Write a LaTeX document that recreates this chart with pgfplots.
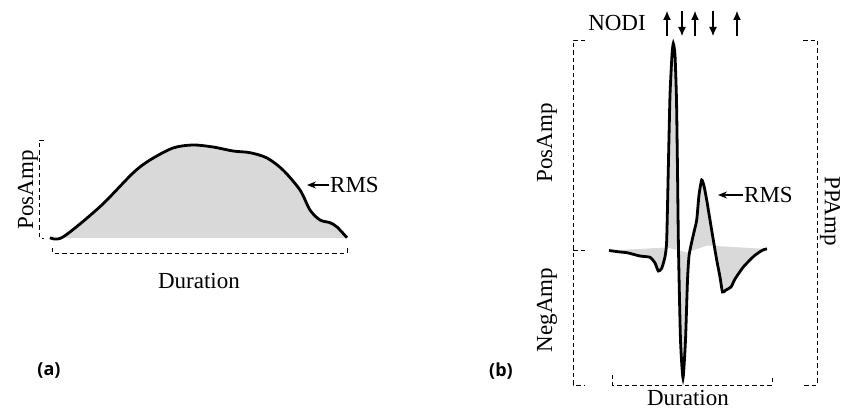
\documentclass[border=0pt]{standalone}
\usepackage{fontspec}
\setmainfont{Liberation Serif}
\newfontfamily\labfont{Open Sans}
\usepackage{pgfplots}
\pgfplotsset{compat=1.18}
\usepgfplotslibrary{fillbetween}
\usetikzlibrary{arrows.meta}
\begin{document}
\fontsize{23}{26}\selectfont
\begin{tikzpicture}
\begin{axis}[name=ax, scale only axis, width=844pt, height=409pt,
  xmin=0, xmax=844, ymin=0, ymax=409, y dir=reverse,
  axis lines=none, ticks=none, clip=false]
% ---------- panel (a) ----------
\addplot[draw=none, smooth, name path=A] coordinates {
 (50,237.7) (63,237) (100,206.7) (133,173) (150,160) (173,148) (193,145)
 (213,147) (233,151) (250,152.7) (267,158) (283,170) (300,190) (310,210)
 (320,220) (330,222.7) (337,227) (347,237.7)};
\addplot[draw=none, name path=Abase] coordinates {(50,238) (347,238)};
\addplot[black!15] fill between[of=A and Abase];
\addplot[black, line width=2.8pt, smooth] coordinates {
 (50,237.7) (63,237) (100,206.7) (133,173) (150,160) (173,148) (193,145)
 (213,147) (233,151) (250,152.7) (267,158) (283,170) (300,190) (310,210)
 (320,220) (330,222.7) (337,227) (347,237.7)};
% ---------- panel (b) ----------
\addplot[draw=none, smooth, tension=0.35, name path=W] coordinates {
 (609,250.5) (620,252) (627,252.7) (640,256) (650,257.3) (655,263) (658.3,271)
 (661.7,268.3) (665,256.7) (666.7,240) (668.5,160) (670,95) (672,55) (673.3,43.5)
 (675,55) (676.5,100) (677.5,170) (678.5,250) (680.5,340) (683,378) (685.5,340)
 (687.5,280) (689,256) (691.5,243) (694,232) (696.7,220) (699,195) (701.7,180)
 (704,186) (706.7,200) (710,220) (713.3,240) (716.7,260) (720,277) (722.5,292)
 (726,290) (731,287) (735,279) (743.3,267) (753.3,256.7) (760,251.7) (764,249.5) (767,249)};
\addplot[draw=none, name path=Wbase] coordinates {
 (609,250.5) (667,247.5) (687,252.5) (707,245.5) (767,249)};
\addplot[black!15] fill between[of=W and Wbase];
\addplot[black, line width=2.8pt, smooth, tension=0.35] coordinates {
 (609,250.5) (620,252) (627,252.7) (640,256) (650,257.3) (655,263) (658.3,271)
 (661.7,268.3) (665,256.7) (666.7,240) (668.5,160) (670,95) (672,55) (673.3,43.5)
 (675,55) (676.5,100) (677.5,170) (678.5,250) (680.5,340) (683,378) (685.5,340)
 (687.5,280) (689,256) (691.5,243) (694,232) (696.7,220) (699,195) (701.7,180)
 (704,186) (706.7,200) (710,220) (713.3,240) (716.7,260) (720,277) (722.5,292)
 (726,290) (731,287) (735,279) (743.3,267) (753.3,256.7) (760,251.7) (764,249.5) (767,249)};
% ---------- dashed guides ----------
\draw[line width=0.8pt, dash pattern=on 4.5pt off 3pt] (axis cs:44,140) -- (axis cs:39.5,140) -- (axis cs:39.5,238) -- (axis cs:44,238);
\draw[line width=0.8pt, dash pattern=on 4.5pt off 3pt] (axis cs:52,248) -- (axis cs:52,253) -- (axis cs:347,253) -- (axis cs:347,248);
\draw[line width=0.8pt, dash pattern=on 4.5pt off 3pt] (axis cs:585,40) -- (axis cs:573,40) -- (axis cs:573,385) -- (axis cs:585,385);
\draw[line width=0.8pt, dash pattern=on 4.5pt off 3pt] (axis cs:573,250) -- (axis cs:587,250);
\draw[line width=0.8pt, dash pattern=on 4.5pt off 3pt] (axis cs:803,40) -- (axis cs:817,40) -- (axis cs:817,385) -- (axis cs:803,385);
\draw[line width=0.8pt, dash pattern=on 4.5pt off 3pt] (axis cs:612,375) -- (axis cs:612,385) -- (axis cs:772,385) -- (axis cs:772,375);
% ---------- text ----------
\node[rotate=90] at (axis cs:28,190) {PosAmp};
\node at (axis cs:199,281) {Duration};
\draw[-{Stealth[length=9pt,width=7pt]}, line width=1.2pt] (axis cs:329,185) -- (axis cs:307,185);
\node[anchor=west, inner sep=0pt] at (axis cs:330,185) {RMS};
\node at (axis cs:49,371) {\labfont\bfseries\fontsize{18}{20}\selectfont (a)};
\node at (axis cs:501,371) {\labfont\bfseries\fontsize{18}{20}\selectfont (b)};
\node at (axis cs:617,23) {NODI};
\draw[-{Latex[length=9pt,width=8pt]}, line width=1.1pt] (axis cs:667,36) -- (axis cs:667,11);
\draw[-{Latex[length=9pt,width=8pt]}, line width=1.1pt] (axis cs:682,11) -- (axis cs:682,36);
\draw[-{Latex[length=9pt,width=8pt]}, line width=1.1pt] (axis cs:695,36) -- (axis cs:695,11);
\draw[-{Latex[length=9pt,width=8pt]}, line width=1.1pt] (axis cs:713,11) -- (axis cs:713,36);
\draw[-{Latex[length=9pt,width=8pt]}, line width=1.1pt] (axis cs:737,36) -- (axis cs:737,11);
\node[rotate=90] at (axis cs:547,143) {PosAmp};
\node[rotate=90] at (axis cs:547,310) {NegAmp};
\node[rotate=-90] at (axis cs:830,211) {PPAmp};
\draw[-{Stealth[length=9pt,width=7pt]}, line width=1.2pt] (axis cs:743,195) -- (axis cs:718,195);
\node[anchor=west, inner sep=0pt] at (axis cs:744,195) {RMS};
\node at (axis cs:688,398) {Duration};
\end{axis}
\pgfresetboundingbox
\path (ax.south west) rectangle (ax.north east);
\end{tikzpicture}
\end{document}
